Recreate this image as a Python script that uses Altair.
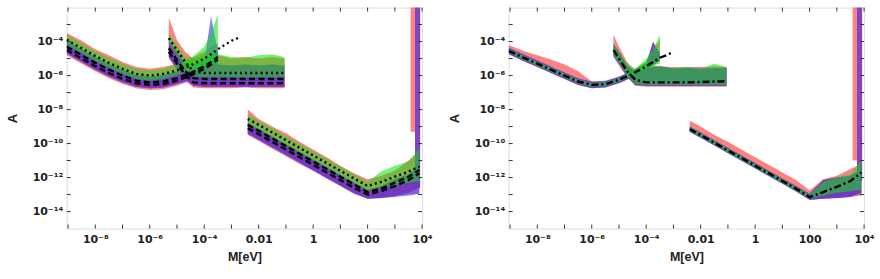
import altair as alt
import pandas as pd

# ---------------- values (log10 of M and A) ----------------
# Left panel, low-mass segment
L_A_X = [-9.05, -8.5, -8.0, -7.5, -7.0, -6.5, -6.0, -5.5, -5.0, -4.5, -4.0, -3.75, -3.5]
L_A_RED_LO = [-4.8, -5.3, -5.75, -6.15, -6.5, -6.75, -6.85, -6.8, -6.6, -6.3, -5.9, -5.65, -5.4]
L_A_RED_HI = [-3.5, -3.95, -4.45, -4.8, -5.2, -5.5, -5.6, -5.5, -5.3, -5.0, -4.6, -4.3, -4.1]
L_A_BLUE_LO = [-4.7, -5.2, -5.65, -6.05, -6.4, -6.65, -6.75, -6.7, -6.5, -6.3, -5.85, -5.55, -5.25]
L_A_BLUE_HI = [-4.1, -4.6, -5.05, -5.45, -5.8, -6.1, -6.2, -6.15, -5.95, -5.65, -5.25, -2.5, -4.6]
L_A_PURP_LO = [-4.7, -5.2, -5.65, -6.05, -6.4, -6.65, -6.75, -6.7, -6.5, -6.2, -5.8, -5.55, -5.25]
L_A_PURP_HI = [-3.95, -4.45, -4.9, -5.3, -5.65, -5.95, -6.05, -5.95, -5.75, -5.45, -5.1, -4.85, -4.6]
L_A_GREEN_LO = [-4.2, -4.7, -5.15, -5.55, -5.9, -6.2, -6.3, -6.2, -6.0, -5.7, -5.4, -5.3, -5.3]
L_A_GREEN_HI = [-3.6, -4.1, -4.55, -4.95, -5.3, -5.6, -5.7, -5.6, -5.35, -5.0, -4.3, -3.5, -2.4]

# Left panel, middle segment
L_B_X = [-5.3, -5.0, -4.7, -4.4, -4.0, -3.5, -3.0, -2.5, -2.0, -1.5, -1.05]
L_B_RED_LO = [-5.0, -5.7, -6.3, -6.7, -6.75, -6.75, -6.75, -6.7, -6.75, -6.75, -6.75]
L_B_RED_HI = [-2.6, -3.9, -4.6, -5.0, -4.9, -4.8, -5.0, -4.9, -5.0, -4.9, -5.0]
L_B_BLUE_LO = [-4.9, -5.6, -6.2, -6.6, -6.65, -6.65, -6.65, -6.65, -6.65, -6.65, -6.65]
L_B_BLUE_HI = [-4.2, -4.9, -5.55, -5.95, -6.0, -6.0, -6.0, -6.0, -6.0, -6.0, -6.0]
L_B_PURP_LO = [-4.9, -5.6, -6.2, -6.6, -6.65, -6.65, -6.65, -6.65, -6.65, -6.65, -6.65]
L_B_PURP_HI = [-3.9, -4.6, -5.25, -5.45, -5.35, -5.35, -5.4, -5.35, -5.4, -5.35, -5.4]
L_B_GREEN_LO = [-4.1, -4.8, -5.5, -6.05, -6.1, -6.1, -6.1, -6.1, -6.1, -6.1, -6.1]
L_B_GREEN_HI = [-3.5, -4.2, -4.9, -5.0, -4.8, -4.75, -4.9, -4.95, -4.8, -4.75, -4.9]

# Left panel, high-mass segment
C_X = [-2.4, -2.0, -1.5, -1.0, -0.5, 0.0, 0.5, 1.0, 1.5, 2.0, 2.5, 3.0, 3.5, 3.9]
L_C_RED_LO = [-9.5, -9.85, -10.3, -10.75, -11.2, -11.6, -12.05, -12.5, -12.95, -13.2, -13.1, -13.05, -13.0, -12.95]
L_C_RED_HI = [-8.0, -8.55, -9.0, -9.4, -9.9, -10.35, -10.8, -11.3, -11.75, -12.1, -11.9, -11.6, -11.0, -10.5]
L_C_BLUE_LO = [-9.45, -9.8, -10.25, -10.7, -11.15, -11.6, -12.05, -12.5, -12.95, -13.25, -13.2, -13.15, -13.05, -12.95]
L_C_BLUE_HI = [-8.75, -9.1, -9.55, -10.0, -10.45, -10.9, -11.35, -11.8, -12.25, -12.7, -12.5, -12.1, -11.8, -11.3]
L_C_PURP_LO = [-9.4, -9.75, -10.2, -10.65, -11.1, -11.55, -12.0, -12.45, -12.9, -13.25, -13.2, -13.1, -12.9, -12.6]
L_C_PURP_HI = [-8.8, -9.15, -9.6, -10.05, -10.5, -10.95, -11.4, -11.85, -12.3, -12.75, -12.5, -12.1, -11.8, -11.3]
L_C_GREEN_LO = [-8.85, -9.2, -9.65, -10.1, -10.55, -11.0, -11.45, -11.9, -12.35, -12.8, -12.6, -12.45, -12.3, -12.2]
L_C_GREEN_HI = [-8.3, -8.65, -9.1, -9.55, -10.0, -10.45, -10.9, -11.35, -11.8, -12.25, -11.65, -11.3, -11.05, -10.3]

# Spikes near 10^4 eV
SPIKE_RED_X = [3.58, 3.74]
SPIKE_PURP_X = [3.74, 3.93]
L_SPIKE_RED_LO = [-9.3, -9.3]
L_SPIKE_PURP_LO = [-12.6, -12.6]
SPIKE_TOP = [-1.5, -1.5]

# Left panel lines
L_LA_X = [-9.05, -8.5, -8.0, -7.5, -7.0, -6.5, -6.0, -5.5, -5.0, -4.5, -4.0, -3.75, -3.5, -3.25, -3.0, -2.7]
L_LA_DOT = [-3.9, -4.4, -4.85, -5.25, -5.6, -5.9, -6.0, -5.9, -5.7, -5.4, -5.0, -4.75, -4.45, -4.2, -3.95, -3.75]
L_LA_X2 = [-9.05, -8.5, -8.0, -7.5, -7.0, -6.5, -6.0, -5.5, -5.0, -4.5, -4.0, -3.75, -3.5]
L_LA_DASH1 = [-4.3, -4.8, -5.25, -5.65, -6.0, -6.3, -6.4, -6.35, -6.15, -5.85, -5.45, -5.2, -4.9]
L_LA_DASH2 = [-4.5, -5.0, -5.45, -5.85, -6.2, -6.45, -6.55, -6.5, -6.3, -6.0, -5.6, -5.35, -5.05]
L_LB_DOT = [-3.8, -4.5, -5.2, -5.75, -5.85, -5.85, -5.85, -5.85, -5.85, -5.85, -5.85]
L_LB_DASH1 = [-4.4, -5.1, -5.75, -6.15, -6.2, -6.2, -6.2, -6.2, -6.2, -6.2, -6.2]
L_LB_DASH2 = [-4.6, -5.3, -5.95, -6.4, -6.45, -6.45, -6.45, -6.45, -6.45, -6.45, -6.45]
L_LC_DOT = [-8.55, -8.9, -9.35, -9.8, -10.25, -10.7, -11.15, -11.6, -12.05, -12.5, -12.25, -11.95, -11.65, -11.35]
L_LC_DASH1 = [-8.9, -9.25, -9.7, -10.15, -10.6, -11.05, -11.5, -11.95, -12.4, -12.85, -12.65, -12.3, -11.95, -11.55]
L_LC_DASH2 = [-9.1, -9.45, -9.9, -10.35, -10.8, -11.25, -11.7, -12.15, -12.6, -13.0, -12.8, -12.5, -12.15, -11.75]

# Right panel, low-mass segment
R_A_X = [-9.05, -8.5, -8.0, -7.5, -7.0, -6.5, -6.0, -5.5, -5.0, -4.5, -4.0, -3.75, -3.5]
R_A_RED_LO = [-4.75, -5.15, -5.5, -5.85, -6.2, -6.55, -6.75, -6.7, -6.45, -6.1, -5.65, -5.4, -5.15]
R_A_RED_HI = [-4.2, -4.55, -4.8, -5.05, -5.35, -5.75, -6.35, -6.4, -6.1, -5.7, -5.2, -4.5, -3.9]
R_A_BLUE_LO = [-4.75, -5.15, -5.5, -5.85, -6.2, -6.55, -6.75, -6.7, -6.45, -6.1, -5.65, -5.4, -5.15]
R_A_BLUE_HI = [-4.35, -4.75, -5.1, -5.45, -5.8, -6.15, -6.35, -6.3, -6.05, -5.7, -5.25, -4.5, -4.6]
R_A_PURP_LO = [-4.72, -5.12, -5.47, -5.82, -6.17, -6.52, -6.72, -6.67, -6.42, -6.07, -5.62, -5.37, -5.12]
R_A_PURP_HI = [-4.38, -4.78, -5.13, -5.48, -5.83, -6.18, -6.38, -6.33, -6.08, -5.73, -5.28, -4.0, -4.7]
R_A_GREEN_LO = [-4.67, -5.07, -5.42, -5.77, -6.12, -6.47, -6.67, -6.62, -6.37, -6.02, -5.57, -5.4, -5.3]
R_A_GREEN_HI = [-4.43, -4.83, -5.18, -5.53, -5.88, -6.23, -6.43, -6.38, -6.13, -5.78, -5.0, -4.5, -3.6]

# Right panel, middle segment
R_B_X = [-5.2, -5.0, -4.7, -4.4, -4.0, -3.5, -3.0, -2.5, -2.0, -1.5, -1.05]
R_B_RED_LO = [-4.9, -5.4, -6.1, -6.6, -6.65, -6.65, -6.65, -6.65, -6.65, -6.65, -6.65]
R_B_RED_HI = [-3.6, -4.3, -5.2, -5.7, -5.4, -5.45, -5.5, -5.5, -5.5, -5.45, -5.5]
R_B_BLUE_LO = [-4.85, -5.3, -6.05, -6.55, -6.6, -6.6, -6.6, -6.6, -6.6, -6.6, -6.6]
R_B_BLUE_HI = [-4.15, -4.6, -5.4, -5.8, -5.55, -5.5, -5.6, -5.55, -5.6, -5.55, -5.55]
R_B_PURP_LO = [-4.85, -5.3, -6.05, -6.55, -6.6, -6.6, -6.6, -6.6, -6.6, -6.6, -6.6]
R_B_PURP_HI = [-4.15, -4.6, -5.4, -5.8, -5.55, -5.45, -5.6, -5.55, -5.6, -5.55, -5.55]
R_B_GREEN_LO = [-4.8, -5.25, -6.0, -6.5, -6.55, -6.55, -6.55, -6.55, -6.55, -6.55, -6.55]
R_B_GREEN_HI = [-4.1, -4.6, -5.3, -5.6, -5.2, -5.5, -5.55, -5.5, -5.6, -5.3, -5.5]

# Right panel, high-mass segment
R_C_RED_LO = [-9.3, -9.65, -10.1, -10.55, -11.0, -11.45, -11.9, -12.35, -12.8, -13.3, -13.2, -13.2, -13.15, -13.05]
R_C_RED_HI = [-8.65, -9.0, -9.5, -9.9, -10.35, -10.8, -11.25, -11.7, -12.15, -12.75, -12.1, -11.9, -11.5, -11.2]
R_C_BLUE_LO = [-9.32, -9.67, -10.12, -10.57, -11.02, -11.47, -11.92, -12.37, -12.82, -13.3, -13.25, -13.2, -13.1, -12.95]
R_C_BLUE_HI = [-9.0, -9.35, -9.8, -10.25, -10.7, -11.15, -11.6, -12.05, -12.5, -12.95, -12.15, -12.0, -11.9, -11.5]
R_C_PURP_LO = [-9.3, -9.65, -10.1, -10.55, -11.0, -11.45, -11.9, -12.35, -12.8, -13.3, -13.25, -13.2, -13.15, -12.9]
R_C_PURP_HI = [-9.0, -9.35, -9.8, -10.25, -10.7, -11.15, -11.6, -12.05, -12.5, -12.95, -12.15, -12.0, -11.9, -11.5]
R_C_GREEN_LO = [-9.27, -9.62, -10.07, -10.52, -10.97, -11.42, -11.87, -12.32, -12.77, -13.25, -13.05, -12.9, -12.8, -12.7]
R_C_GREEN_HI = [-9.0, -9.38, -9.83, -10.28, -10.73, -11.18, -11.63, -12.08, -12.53, -13.0, -12.25, -12.0, -11.8, -11.0]

R_SPIKE_RED_LO = [-11.0, -11.0]
R_SPIKE_PURP_LO = [-12.2, -12.2]

# Right panel lines (dash-dot)
R_LA_X = [-9.05, -8.5, -8.0, -7.5, -7.0, -6.5, -6.0, -5.5, -5.0, -4.5, -4.0, -3.75, -3.5, -3.25, -3.0]
R_LA_LINE = [-4.55, -4.95, -5.3, -5.65, -6.0, -6.35, -6.55, -6.5, -6.25, -5.9, -5.45, -5.2, -4.95, -4.8, -4.6]
R_LB_LINE = [-4.5, -5.0, -5.75, -6.25, -6.4, -6.4, -6.4, -6.4, -6.38, -6.35, -6.33]
R_LC_LINE = [-9.15, -9.5, -9.95, -10.4, -10.85, -11.3, -11.75, -12.2, -12.65, -13.15, -12.85, -12.55, -12.2, -11.7]

# Axes
X_TICKS = list(range(-9, 5))
Y_TICKS = list(range(-14, -2))
X_LABELS = {-8: "10⁻⁸", -6: "10⁻⁶", -4: "10⁻⁴", -2: "0.01", 0: "1", 2: "100", 4: "10⁴"}
Y_LABELS = {-4: "10⁻⁴", -6: "10⁻⁶", -8: "10⁻⁸", -10: "10⁻¹⁰", -12: "10⁻¹²", -14: "10⁻¹⁴"}
X_TITLE = "M[eV]"
Y_TITLE = "A"

COLORS = {"red": ("#ff4d4d", 0.7), "blue": ("#5050ff", 0.7),
          "purple": ("#7436bd", 0.92), "green": ("#10e010", 0.55)}

# ---------------- tables ----------------
band_rows = []


def add_band(panel, seg, color, xs, lo, hi):
    for x, a, b in zip(xs, lo, hi):
        band_rows.append({"panel": panel, "seg": seg, "color": color,
                          "x": 10 ** x, "lo": 10 ** a, "hi": 10 ** b})


add_band("L", "A", "red", L_A_X, L_A_RED_LO, L_A_RED_HI)
add_band("L", "A", "blue", L_A_X, L_A_BLUE_LO, L_A_BLUE_HI)
add_band("L", "A", "purple", L_A_X, L_A_PURP_LO, L_A_PURP_HI)
add_band("L", "A", "green", L_A_X, L_A_GREEN_LO, L_A_GREEN_HI)
add_band("L", "B", "red", L_B_X, L_B_RED_LO, L_B_RED_HI)
add_band("L", "B", "blue", L_B_X, L_B_BLUE_LO, L_B_BLUE_HI)
add_band("L", "B", "purple", L_B_X, L_B_PURP_LO, L_B_PURP_HI)
add_band("L", "B", "green", L_B_X, L_B_GREEN_LO, L_B_GREEN_HI)
add_band("L", "C", "red", C_X, L_C_RED_LO, L_C_RED_HI)
add_band("L", "C", "blue", C_X, L_C_BLUE_LO, L_C_BLUE_HI)
add_band("L", "C", "purple", C_X, L_C_PURP_LO, L_C_PURP_HI)
add_band("L", "C", "green", C_X, L_C_GREEN_LO, L_C_GREEN_HI)
add_band("L", "S", "red", SPIKE_RED_X, L_SPIKE_RED_LO, SPIKE_TOP)
add_band("L", "S", "purple", SPIKE_PURP_X, L_SPIKE_PURP_LO, SPIKE_TOP)

add_band("R", "A", "red", R_A_X, R_A_RED_LO, R_A_RED_HI)
add_band("R", "A", "blue", R_A_X, R_A_BLUE_LO, R_A_BLUE_HI)
add_band("R", "A", "purple", R_A_X, R_A_PURP_LO, R_A_PURP_HI)
add_band("R", "A", "green", R_A_X, R_A_GREEN_LO, R_A_GREEN_HI)
add_band("R", "B", "red", R_B_X, R_B_RED_LO, R_B_RED_HI)
add_band("R", "B", "blue", R_B_X, R_B_BLUE_LO, R_B_BLUE_HI)
add_band("R", "B", "purple", R_B_X, R_B_PURP_LO, R_B_PURP_HI)
add_band("R", "B", "green", R_B_X, R_B_GREEN_LO, R_B_GREEN_HI)
add_band("R", "C", "red", C_X, R_C_RED_LO, R_C_RED_HI)
add_band("R", "C", "blue", C_X, R_C_BLUE_LO, R_C_BLUE_HI)
add_band("R", "C", "purple", C_X, R_C_PURP_LO, R_C_PURP_HI)
add_band("R", "C", "green", C_X, R_C_GREEN_LO, R_C_GREEN_HI)
add_band("R", "S", "red", SPIKE_RED_X, R_SPIKE_RED_LO, SPIKE_TOP)
add_band("R", "S", "purple", SPIKE_PURP_X, R_SPIKE_PURP_LO, SPIKE_TOP)

bands = pd.DataFrame(band_rows)

line_rows = []


def add_line(panel, lid, kind, xs, ys):
    for x, y in zip(xs, ys):
        line_rows.append({"panel": panel, "lid": lid, "kind": kind,
                          "x": 10 ** x, "y": 10 ** y})


add_line("L", "A_dot", "dot", L_LA_X, L_LA_DOT)
add_line("L", "A_d1", "dash", L_LA_X2, L_LA_DASH1)
add_line("L", "A_d2", "dash", L_LA_X2, L_LA_DASH2)
add_line("L", "B_dot", "dot", L_B_X, L_LB_DOT)
add_line("L", "B_d1", "dash", L_B_X, L_LB_DASH1)
add_line("L", "B_d2", "dash", L_B_X, L_LB_DASH2)
add_line("L", "C_dot", "dot", C_X, L_LC_DOT)
add_line("L", "C_d1", "dash", C_X, L_LC_DASH1)
add_line("L", "C_d2", "dash", C_X, L_LC_DASH2)
add_line("R", "A", "dashdot", R_LA_X, R_LA_LINE)
add_line("R", "B", "dashdot", R_B_X, R_LB_LINE)
add_line("R", "C", "dashdot", C_X, R_LC_LINE)
lines = pd.DataFrame(line_rows)

xt = pd.DataFrame({"x": [10.0 ** k for k in X_TICKS]})
yt = pd.DataFrame({"y": [10.0 ** k for k in Y_TICKS]})

# ---------------- chart ----------------
W, H = 357, 222
FONT = "Liberation Sans"
LFONT = "DejaVu Sans"


def label_expr(mapping):
    expr = "''"
    for k, v in mapping.items():
        expr = f"round(log(datum.value)/LN10)=={k}?'{v}':({expr})"
    return expr


xscale = alt.Scale(type="log", domain=[10 ** -9.05, 1e4], nice=False)
yscale = alt.Scale(type="log", domain=[1e-15, 1e-2], nice=False)
xaxis = alt.Axis(values=[10.0 ** k for k in X_LABELS], labelExpr=label_expr(X_LABELS),
                 ticks=False, domain=False, grid=False, title=X_TITLE,
                 labelFont=LFONT, labelFontWeight="bold", labelFontSize=11, labelColor="#222",
                 titleFont=FONT, titleFontWeight="bold", titleFontSize=12.5, titleColor="#222",
                 labelPadding=5, titlePadding=6, labelOverlap=False, labelFlush=False)
yaxis = alt.Axis(values=[10.0 ** k for k in Y_LABELS], labelExpr=label_expr(Y_LABELS),
                 ticks=False, domain=False, grid=False, title=Y_TITLE,
                 labelFont=LFONT, labelFontWeight="bold", labelFontSize=11, labelColor="#222",
                 titleFont=FONT, titleFontWeight="bold", titleFontSize=13, titleColor="#222",
                 labelPadding=4, titlePadding=13, labelOverlap=False, labelFlush=False)

X = alt.X("x:Q", scale=xscale, axis=xaxis)
Y = alt.Y("lo:Q", scale=yscale, axis=yaxis)

STYLES = {"dot": ([2, 3.2], 2.4), "dash": ([6, 3.5], 2.4), "dashdot": ([7, 3, 2, 3], 2.4)}


def panel(p):
    layers = []
    for c in ["red", "blue", "purple", "green"]:
        col, op = COLORS[c]
        d = bands[(bands["panel"] == p) & (bands["color"] == c)]
        layers.append(alt.Chart(d).mark_area(color=col, opacity=op, clip=True, interpolate="linear")
                      .encode(x=X, y=Y, y2="hi:Q", detail="seg:N"))
    for s, (dash, w) in STYLES.items():
        d = lines[(lines["panel"] == p) & (lines["kind"] == s)]
        if len(d) == 0:
            continue
        layers.append(alt.Chart(d).mark_line(color="black", strokeDash=dash, strokeWidth=w, clip=True)
                      .encode(x=X, y=alt.Y("y:Q", scale=yscale, axis=yaxis), detail="lid:N"))
    tk = 4
    layers.append(alt.Chart(xt).mark_rule(color="#333").encode(
        x=X, y=alt.value(H), y2=alt.value(H - tk)))
    layers.append(alt.Chart(xt).mark_rule(color="#333").encode(
        x=X, y=alt.value(0), y2=alt.value(tk)))
    layers.append(alt.Chart(yt).mark_rule(color="#333").encode(
        y=alt.Y("y:Q", scale=yscale, axis=yaxis), x=alt.value(0), x2=alt.value(tk)))
    layers.append(alt.Chart(yt).mark_rule(color="#333").encode(
        y=alt.Y("y:Q", scale=yscale, axis=yaxis), x=alt.value(W), x2=alt.value(W - tk)))
    return alt.layer(*layers).properties(width=W, height=H)


chart = alt.hconcat(panel("L"), panel("R"), spacing=14).configure_view(
    stroke="#222", strokeWidth=1.2).configure(padding={"left": 5, "top": 6, "right": 5, "bottom": 5})

chart.save("out.html", embed_options={"renderer": "svg", "actions": False})
